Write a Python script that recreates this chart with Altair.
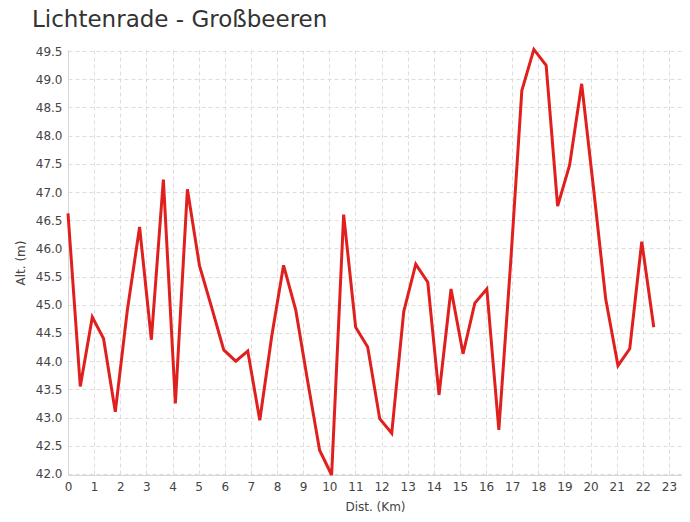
import altair as alt
import pandas as pd

dist = [0.0, 0.47, 0.93, 1.36, 1.81, 2.27, 2.74, 3.19, 3.65, 4.11, 4.57, 5.03, 5.5,
        5.96, 6.42, 6.88, 7.34, 7.8, 8.25, 8.72, 9.17, 9.63, 10.09, 10.55, 11.01,
        11.47, 11.93, 12.39, 12.85, 13.31, 13.77, 14.2, 14.66, 15.12, 15.57, 16.03,
        16.49, 16.95, 17.37, 17.83, 18.3, 18.74, 19.2, 19.66, 20.12, 20.58, 21.05,
        21.5, 21.96, 22.42]
alt_m = [46.62, 43.55, 44.78, 44.4, 43.1, 44.9, 46.38, 44.38, 47.22, 43.25, 47.05,
         45.7, 44.95, 44.2, 44.0, 44.18, 42.95, 44.45, 45.7, 44.9, 43.65, 42.42,
         41.98, 46.6, 44.6, 44.25, 42.98, 42.72, 44.88, 45.72, 45.4, 43.4, 45.28,
         44.13, 45.03, 45.28, 42.78, 45.8, 48.8, 49.53, 49.25, 46.75, 47.48, 48.92,
         47.04, 45.1, 43.92, 44.22, 46.12, 44.6]

df = pd.DataFrame({"dist": dist, "alt": alt_m})

FONT = "DejaVu Sans"

chart = alt.Chart(df).mark_line(color="#e0201f", strokeWidth=3, clip=False).encode(
    x=alt.X("dist:Q", title="Dist. (Km)",
            scale=alt.Scale(domain=[0, 23.5], nice=False, zero=False),
            axis=alt.Axis(values=list(range(0, 24)), format="d", tickSize=0,
                          labelPadding=6, titlePadding=9, labelFlush=False)),
    y=alt.Y("alt:Q", title="Alt. (m)",
            scale=alt.Scale(domain=[41.98, 49.52], nice=False, zero=False),
            axis=alt.Axis(values=[42 + 0.5 * i for i in range(16)], format=".1f",
                          tickSize=0, labelPadding=6, titlePadding=8)),
).properties(
    width=614,
    height=425,
    autosize=alt.AutoSizeParams(type="none"),
    padding={"left": 60, "top": 42, "right": 0, "bottom": 38},
    title=alt.TitleParams("Lichtenrade - Großbeeren", anchor="start", frame="group",
                          dx=-36, offset=11,
                          font=FONT, fontSize=23, fontWeight="normal", color="#333333"),
).configure_view(stroke=None).configure_axis(
    gridDash=[4, 3], gridColor="#dddddd", gridWidth=1,
    domainColor="#d6d6d6", domainWidth=1,
    labelFont=FONT, labelFontSize=12, labelColor="#444444",
    titleFont=FONT, titleFontSize=12, titleColor="#444444", titleFontWeight="normal",
)

chart.save("out.html", embed_options={"renderer": "svg", "actions": False})
